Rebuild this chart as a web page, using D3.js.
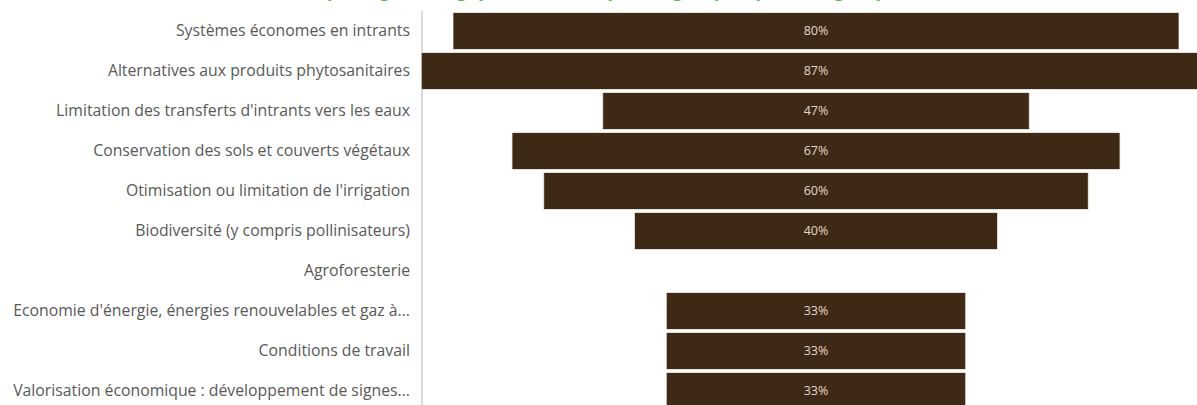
<!DOCTYPE html>
<html lang="fr">
<head>
<meta charset="utf-8">
<script src="https://cdn.jsdelivr.net/npm/d3@7"></script>
<style>
  html, body { margin: 0; padding: 0; background: #ffffff; overflow: hidden; }
  svg { display: block; }
  text { font-family: "Open Sans", "Noto Sans", sans-serif; }
</style>
</head>
<body>
<svg id="chart" width="1197" height="405"></svg>
<script>
// Thématiques travaillées par les groupes (part des groupes, en %)
const categories = [
  "Systèmes économes en intrants",
  "Alternatives aux produits phytosanitaires",
  "Limitation des transferts d'intrants vers les eaux",
  "Conservation des sols et couverts végétaux",
  "Otimisation ou limitation de l'irrigation",
  "Biodiversité (y compris pollinisateurs)",
  "Agroforesterie",
  "Economie d'énergie, énergies renouvelables et gaz à...",
  "Conditions de travail",
  "Valorisation économique : développement de signes..."
];
const shares = [80, 87, 47, 67, 60, 40, 0, 33, 33, 33];
const titleText = "Thématiques agroécologiques abordées par les groupes (part des groupes, en %)";

const svg = d3.select("#chart");

// layout
const axisX = 422;        // left edge of the plotting area
const centerX = 816;      // funnel centre line
const plotTop = 11, plotBottom = 411;

const y = d3.scaleBand()
  .domain(categories)
  .range([plotTop, plotBottom])
  .paddingInner(0.08)
  .paddingOuter(0.04);

const w = d3.scaleLinear().domain([0, 100]).range([0, 907.5]);

// title (runs above the top of the frame)
svg.append("text")
  .attr("x", 606)
  .attr("y", -3)
  .attr("text-anchor", "middle")
  .attr("fill", "#5cb946")
  .attr("font-size", 18)
  .attr("font-weight", "bold")
  .text(titleText);

// category axis
const yAxis = d3.axisLeft(y).tickSize(0).tickPadding(12);
const gAxis = svg.append("g")
  .attr("transform", `translate(${axisX},0)`)
  .call(yAxis);
gAxis.select(".domain")
  .attr("d", `M0,${plotTop}V${plotBottom}`)
  .attr("stroke", "#d9d9d9")
  .attr("stroke-width", 2);
gAxis.selectAll(".tick text")
  .attr("fill", "#595959")
  .attr("font-size", 15.8)
  .attr("font-family", "'Open Sans', 'Noto Sans', sans-serif");

// centred bars
const rows = categories.map((c, i) => ({ cat: c, v: shares[i] }));

svg.append("g")
  .selectAll("rect")
  .data(rows.filter(d => d.v > 0))
  .join("rect")
  .attr("x", d => centerX - w(d.v) / 2)
  .attr("y", d => y(d.cat))
  .attr("width", d => w(d.v))
  .attr("height", y.bandwidth())
  .attr("fill", "#3d2916")
  .attr("stroke", "#f6ece2")
  .attr("stroke-width", 0.8);

// value labels
svg.append("g")
  .selectAll("text")
  .data(rows.filter(d => d.v > 0))
  .join("text")
  .attr("x", centerX)
  .attr("y", d => y(d.cat) + y.bandwidth() / 2)
  .attr("dy", "0.35em")
  .attr("text-anchor", "middle")
  .attr("fill", "#e6d6c6")
  .attr("font-size", 12.5)
  .text(d => d.v + "%");
</script>
</body>
</html>
